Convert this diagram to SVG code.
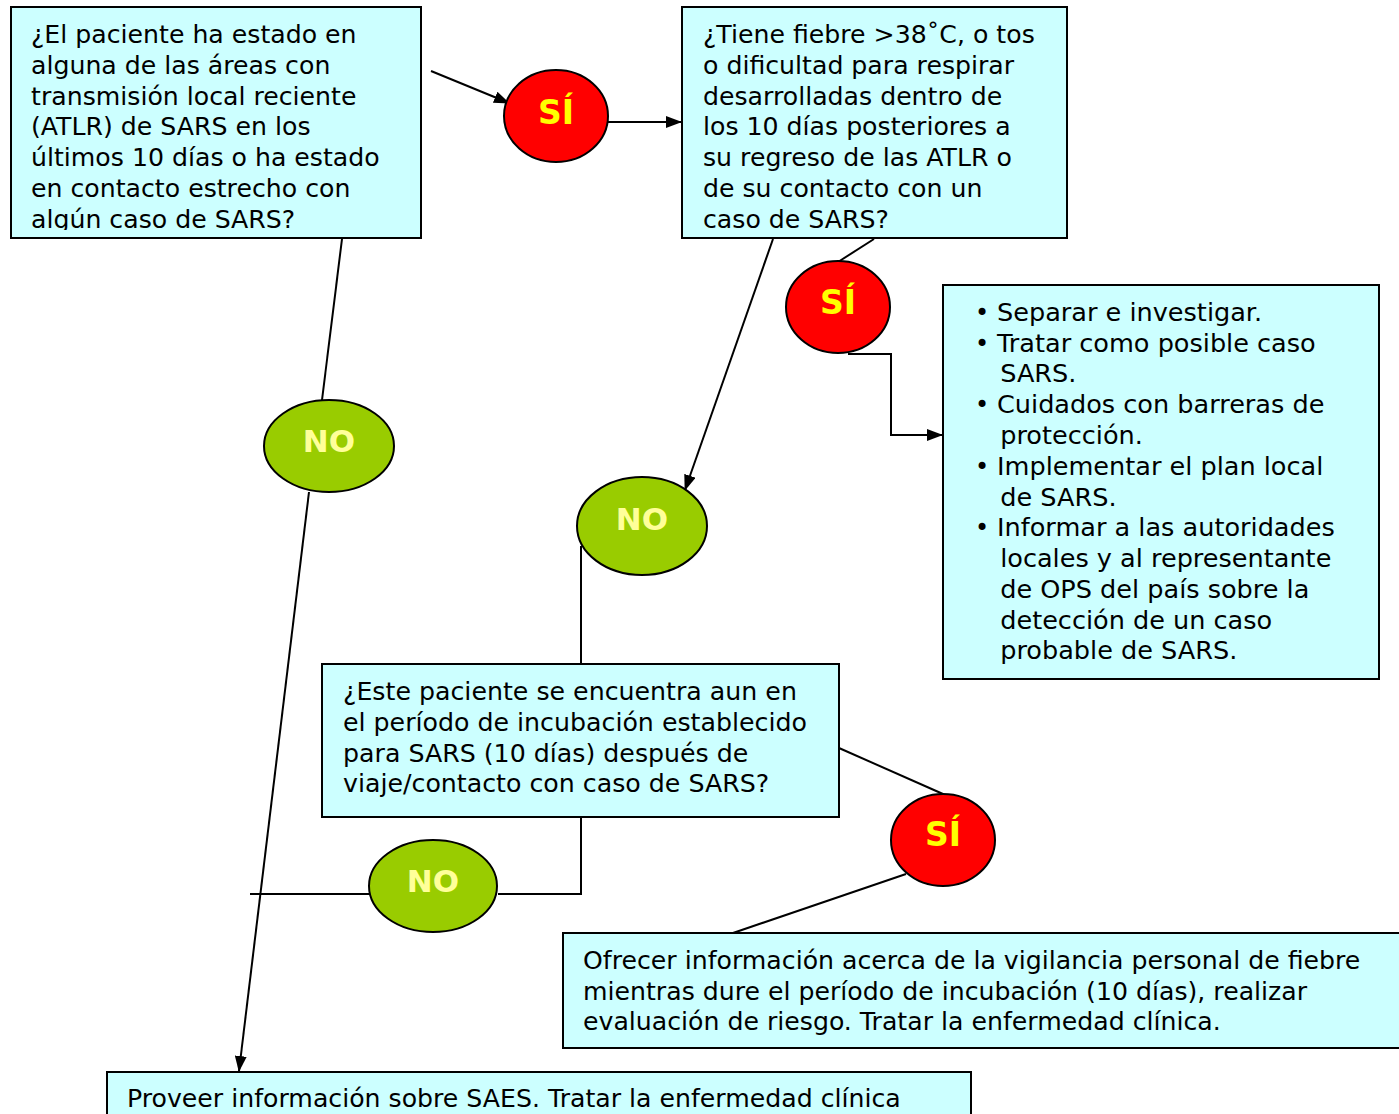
<svg xmlns="http://www.w3.org/2000/svg" width="1399" height="1114" viewBox="0 0 1399 1114">
<style>
.box{fill:#CCFFFF;stroke:#000;stroke-width:2}
.t{font-family:"DejaVu Sans","Liberation Sans",sans-serif;font-size:24px;fill:#000}
.v{font-family:"DejaVu Sans","Liberation Sans",sans-serif;font-size:24px;fill:#000}
.si{fill:#FF0000;stroke:#000;stroke-width:2}
.no{fill:#99CC00;stroke:#000;stroke-width:2}
.sit{font-family:"DejaVu Sans","Liberation Sans",sans-serif;font-weight:bold;font-size:33px;fill:#FFFF00;text-anchor:middle}
.not{font-family:"DejaVu Sans","Liberation Sans",sans-serif;font-weight:bold;font-size:31px;fill:#FFFF99;text-anchor:middle}
.c{fill:none;stroke:#000;stroke-width:2}
</style>
<defs>
<marker id="arr" markerWidth="16" markerHeight="12" refX="15" refY="6" orient="auto" markerUnits="userSpaceOnUse">
<path d="M0,0 L16,6 L0,12 Z" fill="#000"/>
</marker>
<clipPath id="clip1"><rect x="11" y="7" width="410" height="223"/></clipPath>
</defs>

<g id="connectors">
<line class="c" x1="431" y1="71" x2="509" y2="103" marker-end="url(#arr)"/>
<line class="c" x1="608" y1="122" x2="681" y2="122" marker-end="url(#arr)"/>
<line class="c" x1="874" y1="239" x2="838" y2="262"/>
<polyline class="c" points="848,354 891,354 891,435 942,435" marker-end="url(#arr)"/>
<line class="c" x1="773" y1="239" x2="685" y2="490" marker-end="url(#arr)"/>
<line class="c" x1="581" y1="546" x2="581" y2="664"/>
<line class="c" x1="839" y1="748" x2="943" y2="794"/>
<line class="c" x1="906" y1="874" x2="733" y2="933"/>
<polyline class="c" points="581,817 581,894 498,894"/>
<line class="c" x1="370" y1="894" x2="250" y2="894"/>
<line class="c" x1="342" y1="239" x2="322" y2="400"/>
<line class="c" x1="309" y1="492" x2="239" y2="1071" marker-end="url(#arr)"/>
</g>

<g id="q1">
<rect class="box" x="11" y="7" width="410" height="231"/>
<g clip-path="url(#clip1)">
<g transform="translate(31 0) scale(1.05 1)">
<text class="t" x="0" y="43">¿El paciente ha estado en</text>
<text class="t" x="0" y="74">alguna de las áreas con</text>
<text class="t" x="0" y="105">transmisión local reciente</text>
<text class="t" x="0" y="135">(ATLR) de SARS en los</text>
<text class="t" x="0" y="166">últimos 10 días o ha estado</text>
<text class="t" x="0" y="197">en contacto estrecho con</text>
<text class="t" x="0" y="228">algún caso de SARS?</text>
</g>
</g>
</g>

<g id="q2">
<rect class="box" x="682" y="7" width="385" height="231"/>
<g transform="translate(703 0) scale(1.05 1)">
<text class="t" x="0" y="43">¿Tiene fiebre &gt;38˚C, o tos</text>
<text class="t" x="0" y="74">o dificultad para respirar</text>
<text class="t" x="0" y="105">desarrolladas dentro de</text>
<text class="t" x="0" y="135">los 10 días posteriores a</text>
<text class="t" x="0" y="166">su regreso de las ATLR o</text>
<text class="t" x="0" y="197">de su contacto con un</text>
<text class="t" x="0" y="228">caso de SARS?</text>
</g>
</g>

<g id="actions">
<rect class="box" x="943" y="285" width="436" height="394"/>
<text class="v" x="975" y="321">•</text>
<text class="v" x="975" y="352">•</text>
<text class="v" x="975" y="413">•</text>
<text class="v" x="975" y="475">•</text>
<text class="v" x="975" y="536">•</text>
<g transform="translate(997 0) scale(1.065 1)">
<text class="v" x="0" y="321">Separar e investigar.</text>
<text class="v" x="0" y="352">Tratar como posible caso</text>
<text class="v" x="3" y="382">SARS.</text>
<text class="v" x="0" y="413">Cuidados con barreras de</text>
<text class="v" x="3" y="444">protección.</text>
<text class="v" x="0" y="475">Implementar el plan local</text>
<text class="v" x="3" y="506">de SARS.</text>
<text class="v" x="0" y="536">Informar a las autoridades</text>
<text class="v" x="3" y="567">locales y al representante</text>
<text class="v" x="3" y="598">de OPS del país sobre la</text>
<text class="v" x="3" y="629">detección de un caso</text>
<text class="v" x="3" y="659">probable de SARS.</text>
</g>
</g>

<g id="q3">
<rect class="box" x="322" y="664" width="517" height="153"/>
<g transform="translate(343 0) scale(1.053 1)">
<text class="v" x="0" y="700">¿Este paciente se encuentra aun en</text>
<text class="v" x="0" y="731">el período de incubación establecido</text>
<text class="v" x="0" y="762">para SARS (10 días) después de</text>
<text class="v" x="0" y="792">viaje/contacto con caso de SARS?</text>
</g>
</g>

<g id="offer">
<rect class="box" x="563" y="933" width="840" height="115"/>
<g transform="translate(583 0) scale(1.05 1)">
<text class="t" x="0" y="969">Ofrecer información acerca de la vigilancia personal de fiebre</text>
<text class="t" x="0" y="1000">mientras dure el período de incubación (10 días), realizar</text>
<text class="t" x="0" y="1030">evaluación de riesgo. Tratar la enfermedad clínica.</text>
</g>
</g>

<g id="provide">
<rect class="box" x="107" y="1072" width="864" height="60"/>
<g transform="translate(127 0) scale(1.05 1)">
<text class="t" x="0" y="1107">Proveer información sobre SAES. Tratar la enfermedad clínica</text>
</g>
</g>

<g id="si1"><ellipse class="si" cx="556" cy="116" rx="52" ry="46"/><text class="sit" x="556" y="124">SÍ</text></g>
<g id="si2"><ellipse class="si" cx="838" cy="307" rx="52" ry="46"/><text class="sit" x="838" y="314">SÍ</text></g>
<g id="si3"><ellipse class="si" cx="943" cy="840" rx="52" ry="46"/><text class="sit" x="943" y="846">SÍ</text></g>
<g id="no1"><ellipse class="no" cx="329" cy="446" rx="65" ry="46"/><text class="not" x="329" y="452">NO</text></g>
<g id="no2"><ellipse class="no" cx="642" cy="526" rx="65" ry="49"/><text class="not" x="642" y="530">NO</text></g>
<g id="no3"><ellipse class="no" cx="433" cy="886" rx="64" ry="46"/><text class="not" x="433" y="892">NO</text></g>
</svg>
